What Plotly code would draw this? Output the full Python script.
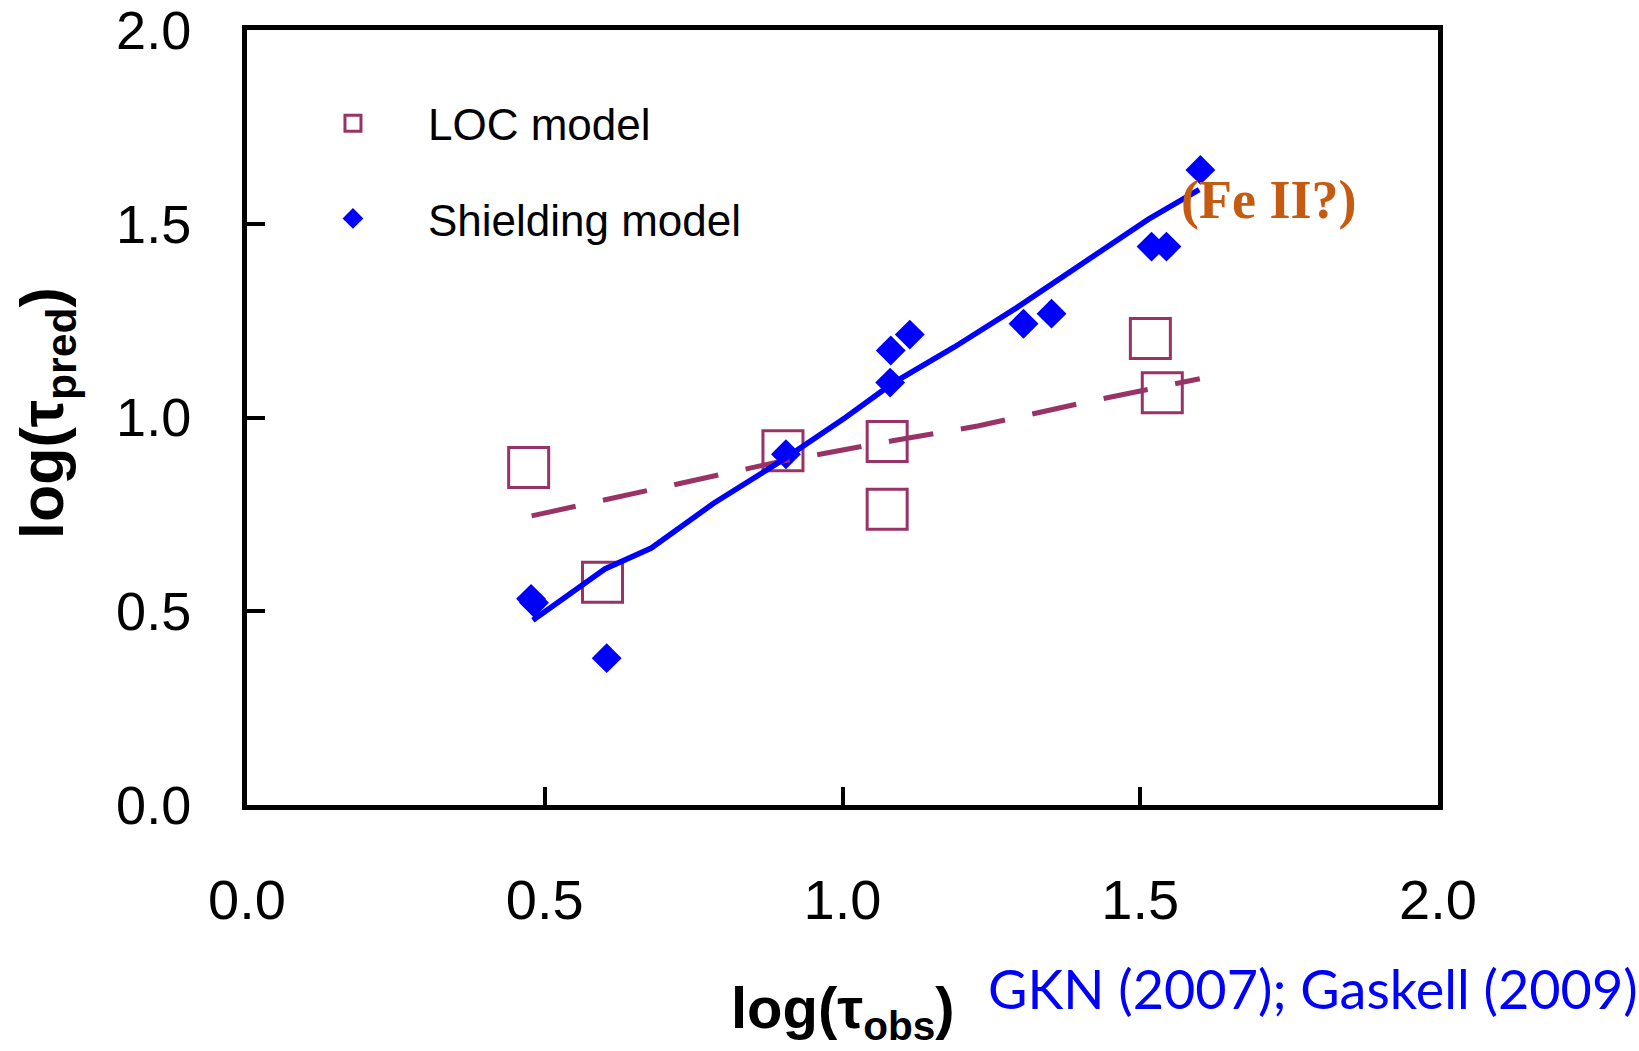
import plotly.graph_objects as go

# Locally optimally emitting cloud (LOC) model predictions
loc_obs = [0.473, 0.597, 0.900, 1.075, 1.075, 1.517, 1.537]
loc_pred = [0.871, 0.575, 0.914, 0.938, 0.763, 1.204, 1.064]

# Shielding model predictions
shield_obs = [0.477, 0.482, 0.604, 0.905, 1.081, 1.113, 1.080, 1.304, 1.351, 1.519, 1.544, 1.601]
shield_pred = [0.532, 0.522, 0.379, 0.905, 1.173, 1.214, 1.090, 1.242, 1.268, 1.441, 1.441, 1.639]

# Fitted trend lines
loc_fit_x = [0.478, 0.666, 0.888, 1.084, 1.227, 1.410, 1.600]
loc_fit_y = [0.746, 0.810, 0.884, 0.940, 0.978, 1.040, 1.100]
shield_fit_x = [0.480, 0.601, 0.679, 0.783, 0.901, 1.005, 1.084, 1.188, 1.292, 1.384, 1.514, 1.599]
shield_fit_y = [0.477, 0.609, 0.663, 0.778, 0.892, 1.000, 1.088, 1.182, 1.283, 1.377, 1.512, 1.588]

tick_vals = [0.0, 0.5, 1.0, 1.5, 2.0]
tick_text = ["0.0", "0.5", "1.0", "1.5", "2.0"]

PLUM = "#993366"
BLUE = "#0000FF"
FONT = "Liberation Sans, Arial, sans-serif"

# plot-area pixel box (used to place the free-floating labels)
L, R, T, B = 247, 1438, 30, 805
W, H = R - L, B - T

fig = go.Figure()

fig.add_trace(go.Scatter(
    x=loc_obs, y=loc_pred, mode="markers", name="LOC model",
    legendgroup="loc",
    marker=dict(symbol="square-open", size=40, color=PLUM, line=dict(width=3, color=PLUM)),
))
fig.add_trace(go.Scatter(
    x=shield_obs, y=shield_pred, mode="markers", name="Shielding model",
    legendgroup="shield",
    marker=dict(symbol="diamond", size=23, color=BLUE, line=dict(width=0)),
))
fig.add_trace(go.Scatter(
    x=loc_fit_x, y=loc_fit_y, mode="lines", showlegend=False,
    line=dict(color=PLUM, width=5, dash="45px,28px"),
))
fig.add_trace(go.Scatter(
    x=shield_fit_x, y=shield_fit_y, mode="lines", showlegend=False,
    line=dict(color=BLUE, width=5.5),
))

axis_common = dict(
    range=[0, 2], tickvals=tick_vals, ticktext=tick_text,
    showline=True, linecolor="black", linewidth=5, mirror=True,
    ticks="inside", ticklen=18, tickwidth=4, tickcolor="black",
    showgrid=False, zeroline=False, automargin=False,
    ticklabeloverflow="allow",
)

fig.update_xaxes(**axis_common, tickfont=dict(family=FONT, size=56, color="black"),
                 ticklabelstandoff=42)
fig.update_yaxes(**axis_common, tickfont=dict(family=FONT, size=54, color="black"),
                 ticklabelstandoff=40)

fig.update_layout(
    width=1639, height=1051,
    margin=dict(l=L, r=1639 - R, t=T, b=1051 - B, autoexpand=False),
    paper_bgcolor="white", plot_bgcolor="white",
    showlegend=True,
    legend=dict(
        x=0.026, y=0.925, xanchor="left", yanchor="top",
        font=dict(family=FONT, size=44, color="black"),
        itemwidth=140, tracegroupgap=35, bgcolor="rgba(0,0,0,0)",
    ),
    annotations=[
        dict(text="<b>log(τ<sub>obs</sub>)</b>", xref="paper", yref="paper",
             x=(843 - L) / W, y=(B - 1012) / H, xanchor="center", yanchor="middle",
             showarrow=False, font=dict(family=FONT, size=58, color="black")),
        dict(text="<b>log(τ<sub>pred</sub>)</b>", xref="paper", yref="paper",
             x=(47 - L) / W, y=(B - 413) / H, xanchor="center", yanchor="middle",
             textangle=-90, showarrow=False, font=dict(family=FONT, size=61, color="black")),
        dict(text="GKN (2007); Gaskell (2009)", xref="paper", yref="paper",
             x=(1313 - L) / W, y=(B - 989) / H, xanchor="center", yanchor="middle",
             showarrow=False, font=dict(family="Lato, sans-serif", size=54, color=BLUE)),
        dict(text="<b>(Fe II?)</b>", xref="paper", yref="paper",
             x=(1268 - L) / W, y=(B - 200) / H, xanchor="center", yanchor="middle",
             showarrow=False, font=dict(family="Liberation Serif, serif", size=54, color="#C55A11")),
    ],
)

fig.write_html("out.html")
